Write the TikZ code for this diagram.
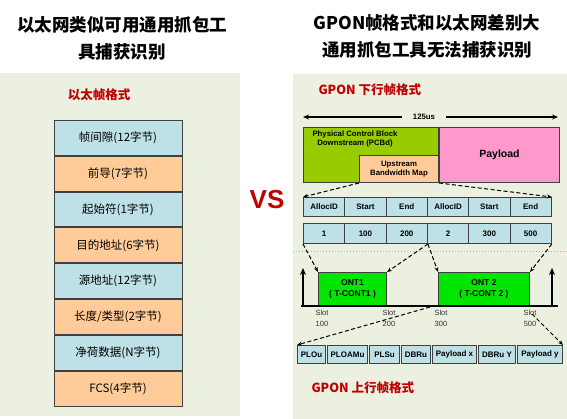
\documentclass[tikz,border=0pt]{standalone}
\usepackage{fontspec}
\setmainfont{Noto Sans CJK SC}
\newfontfamily\latinfont{Liberation Sans}
\usetikzlibrary{arrows.meta,positioning}

\definecolor{panelbg}{RGB}{236,240,224}
\definecolor{cellblue}{RGB}{189,225,230}
\definecolor{cellorange}{RGB}{255,204,153}
\definecolor{pcbgreen}{RGB}{153,204,0}
\definecolor{payloadpink}{RGB}{255,153,204}
\definecolor{ontgreen}{RGB}{0,230,0}
\definecolor{titlered}{RGB}{192,0,0}
\definecolor{edgegray}{RGB}{64,64,64}
\definecolor{sepblue}{RGB}{150,185,215}

\tikzset{
  ethrow/.style={draw=edgegray, line width=0.9pt, minimum width=128pt, minimum height=34.9pt, inner sep=0pt, font=\fontsize{11.5}{13}\selectfont},
  cell/.style={draw=edgegray, line width=1pt, fill=cellblue, minimum height=19pt, inner sep=0pt, font=\latinfont\bfseries\fontsize{8}{9}\selectfont},
  block/.style={draw=edgegray, line width=1pt, inner sep=0pt, anchor=north west, align=center, font=\latinfont\bfseries\fontsize{8.5}{11}\selectfont},
  redhead/.style={text=titlered, anchor=west, font=\bfseries\fontsize{12.5}{14}\selectfont},
  bigtitle/.style={align=center, font=\bfseries\fontsize{17.5}{27}\selectfont},
  slotlabel/.style={align=center, inner sep=0pt, text=black!80, font=\latinfont\fontsize{7.5}{11}\selectfont},
  maparrow/.style={-{Stealth[length=5pt,width=4pt]}, line width=1pt, dash pattern=on 4pt off 2.5pt},
  tickarrow/.style={-{Stealth[length=7pt,width=6pt]}, line width=2pt},
  spanarrow/.style={-{Stealth[length=6pt,width=5pt]}, line width=1.6pt}
}

\begin{document}
\begin{tikzpicture}[x=1pt,y=-1pt]
  \useasboundingbox (0,0) rectangle (567,419);
  \fill[white] (0,0) rectangle (567,419);
  \fill[panelbg] (0,73) rectangle (240,416);
  \fill[panelbg] (293,74) rectangle (567,419);

  % titles
  \node[bigtitle] (lefttitle) at (122,38) {以太网类似可用通用抓包工\\具捕获识别};
  \node[bigtitle] (righttitle) at (427,36) {GPON帧格式和以太网差别大\\通用抓包工具无法捕获识别};
  \node[text=titlered, font=\latinfont\bfseries\fontsize{26}{28}\selectfont] (vs) at (267,200) {VS};

  % ethernet frame
  \node[redhead, anchor=center] (ethhead) at (99,95) {以太帧格式};
  \node[ethrow, fill=cellblue, anchor=north] (eth1) at (118,120) {帧间隙(12字节)};
  \node[ethrow, fill=cellorange, below=0pt of eth1] (eth2) {前导(7字节)};
  \node[ethrow, fill=cellblue, below=0pt of eth2] (eth3) {起始符(1字节)};
  \node[ethrow, fill=cellorange, below=0pt of eth3] (eth4) {目的地址(6字节)};
  \node[ethrow, fill=cellblue, below=0pt of eth4] (eth5) {源地址(12字节)};
  \node[ethrow, fill=cellorange, below=0pt of eth5] (eth6) {长度/类型(2字节)};
  \node[ethrow, fill=cellblue, below=0pt of eth6] (eth7) {净荷数据(N字节)};
  \node[ethrow, fill=cellorange, below=0pt of eth7] (eth8) {FCS(4字节)};

  % GPON downstream
  \node[redhead] (downhead) at (315,90) {GPON 下行帧格式};
  \coordinate (spanl) at (303,117);
  \coordinate (spanr) at (558,117);
  \node[fill=panelbg, inner xsep=11pt, inner ysep=2pt, font=\latinfont\bfseries\fontsize{7.8}{9}\selectfont] (span) at (424,117) {125us};
  \draw[spanarrow] (span.west) -- (spanl);
  \draw[spanarrow] (span.east) -- (spanr);

  \node[block, fill=pcbgreen, minimum width=135pt, minimum height=55pt] (pcbd) at (303,127) {};
  \node[align=center, inner sep=0pt, font=\latinfont\bfseries\fontsize{7.8}{9.5}\selectfont] (pcbdtext) at (355,139) {Physical Control Block\\Downstream (PCBd)};
  \node[block, fill=payloadpink, minimum width=120pt, minimum height=55pt, font=\latinfont\bfseries\fontsize{10.5}{12}\selectfont] (payload) at (pcbd.north east) {Payload};
  \node[block, fill=cellorange, anchor=south east, minimum width=79pt, minimum height=27pt, font=\latinfont\bfseries\fontsize{7.8}{9.5}\selectfont] (ubmap) at (pcbd.south east) {Upstream\\Bandwidth Map};

  \foreach \lbl [count=\i] in {AllocID,Start,End,AllocID,Start,End}
    \node[cell, minimum width=41.3pt, anchor=north west] (f\i) at ({303+(\i-1)*41.3},197) {\lbl};
  \foreach \val [count=\i] in {1,100,200,2,300,500}
    \node[cell, minimum width=41.3pt, minimum height=20pt, anchor=north west] (v\i) at ({303+(\i-1)*41.3},223) {\val};

  \draw[maparrow] (ubmap.south west) -- (f1.north west);
  \draw[maparrow] (ubmap.south east) -- (f6.north east);

  \draw[sepblue, line width=1pt, dotted] (293,252) -- (567,252);

  % upstream time slots
  \node[block, fill=ontgreen, anchor=south west, minimum width=68pt, minimum height=33pt] (ont1) at (318,306) {ONT1\\( T-CONT1 )};
  \node[block, fill=ontgreen, anchor=south west, minimum width=91pt, minimum height=33pt] (ont2) at (438,306) {ONT 2\\( T-CONT 2 )};
  \coordinate (axl) at (301,306);
  \coordinate (axr) at (558,306);
  \draw[line width=2pt] (axl) -- (axr);
  \coordinate (tickl) at (303,307);
  \coordinate (ticklt) at (303,268);
  \coordinate (tickr) at (552,307);
  \coordinate (tickrt) at (552,268);
  \draw[tickarrow] (tickl) -- (ticklt);
  \draw[tickarrow] (tickr) -- (tickrt);

  \draw[maparrow] (v1.south west) -- (ont1.north west);
  \draw[maparrow] (v3.south east) -- (ont1.north east);
  \draw[maparrow] (v3.south east) -- (ont2.north west);
  \draw[maparrow] (v6.south east) -- (ont2.north east);

  \node[slotlabel] (slot100) at (322,318) {Slot\\100};
  \node[slotlabel] (slot200) at (389,318) {Slot\\200};
  \node[slotlabel] (slot300) at (441,318) {Slot\\300};
  \node[slotlabel] (slot500) at (530,318) {Slot\\500};

  % GPON upstream
  \node[cell, minimum width=28pt, minimum height=18pt, anchor=north west] (u1) at (297,345) {PLOu};
  \node[cell, minimum width=40pt, minimum height=18pt, right=1pt of u1] (u2) {PLOAMu};
  \node[cell, minimum width=30pt, minimum height=18pt, right=1pt of u2] (u3) {PLSu};
  \node[cell, minimum width=29pt, minimum height=18pt, right=1pt of u3] (u4) {DBRu};
  \node[cell, minimum width=44pt, minimum height=18pt, right=1pt of u4] (u5) {Payload x};
  \node[cell, minimum width=37pt, minimum height=18pt, right=1pt of u5] (u6) {DBRu Y};
  \node[cell, minimum width=45pt, minimum height=18pt, right=1pt of u6] (u7) {Payload y};

  \coordinate (from300) at (430,307);
  \coordinate (from500) at (532,314);
  \draw[maparrow] (from300) -- (u1.north west);
  \draw[maparrow] (from500) -- (u7.north east);

  \node[redhead] (uphead) at (308,388) {GPON 上行帧格式};
\end{tikzpicture}
\end{document}
